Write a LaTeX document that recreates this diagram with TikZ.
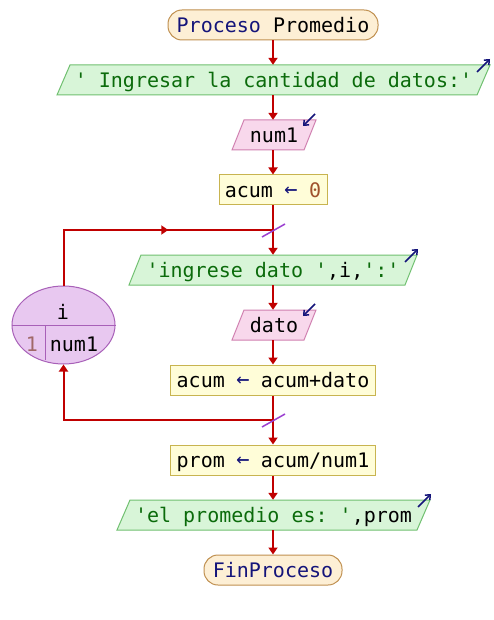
\documentclass[tikz,border=0pt]{standalone}
\usepackage{fontspec}
\setmonofont{DejaVu Sans Mono}
\usetikzlibrary{arrows.meta,calc,shapes.geometric}
\definecolor{termfill}{HTML}{FDEFD5}
\definecolor{termdraw}{HTML}{C09050}
\definecolor{outfill}{HTML}{D8F5D8}
\definecolor{outdraw}{HTML}{70C070}
\definecolor{infill}{HTML}{F8D8EC}
\definecolor{indraw}{HTML}{D080B0}
\definecolor{procfill}{HTML}{FFFDD8}
\definecolor{procdraw}{HTML}{C8B450}
\definecolor{ellfill}{HTML}{E8C8F0}
\definecolor{elldraw}{HTML}{A860B8}
\definecolor{flowred}{HTML}{C00000}
\definecolor{slashc}{HTML}{9B3FD0}
\definecolor{navyc}{HTML}{14147A}
\definecolor{strc}{HTML}{0B6B0B}
\definecolor{numc}{HTML}{A0522D}
\definecolor{onec}{HTML}{A06868}
\newcommand{\asg}{\makebox[0.602em]{\raisebox{0.5pt}{\textcolor{navyc}{\fontsize{22}{22}\selectfont ←}}}}
\newcommand{\mypara}[5]{\filldraw[#5] (#1-#3-#4,#2+15) -- (#1-#3+#4,#2-15) -- (#1+#3+#4,#2-15) -- (#1+#3-#4,#2+15) -- cycle;}
\begin{document}
\begin{tikzpicture}[x=1pt,y=-1pt,
  font=\ttfamily\fontsize{20}{24}\selectfont,
  txt/.style={inner sep=0pt, text height=14.6pt, text depth=0pt, minimum height=30pt, anchor=center},
  termbox/.style={txt, draw=termdraw, fill=termfill, line width=1pt, rounded corners=14pt},
  procbox/.style={txt, draw=procdraw, fill=procfill, line width=1pt},
  outshape/.style={draw=outdraw, fill=outfill, line width=1pt},
  inshape/.style={draw=indraw, fill=infill, line width=1pt},
  flowline/.style={draw=flowred, line width=2pt},
  flow/.style={flowline, -{Triangle[length=7pt,width=9pt]}},
  slash/.style={draw=slashc, line width=1.5pt},
  icon/.style={draw=navyc, line width=1.5pt, -{Straight Barb[length=4pt,width=7pt]}}
]
\fill[white] (0,0) rectangle (493,620);
\useasboundingbox (0,0) rectangle (493,620);

% shapes
\mypara{273.5}{80}{210}{6.5}{outshape}
\mypara{274}{135}{36}{6}{inshape}
\mypara{273}{270}{138}{6}{outshape}
\mypara{274}{325}{36}{6}{inshape}
\mypara{273.5}{515}{150}{6.5}{outshape}

% nodes
\node[termbox, minimum width=210pt] (start) at (273,25) {\textcolor{navyc}{Proceso} Promedio};
\node[txt, minimum width=420pt] (o1) at (273.5,80) {\textcolor{strc}{' Ingresar la cantidad de datos:'}};
\node[txt, minimum width=72pt] (i1) at (274,135) {num1};
\node[procbox, minimum width=108pt] (a0) at (273,190) {acum \asg{} \textcolor{numc}{0}};
\node[txt, minimum width=276pt] (o2) at (273,270) {\textcolor{strc}{'ingrese dato '},i,\textcolor{strc}{':'}};
\node[txt, minimum width=72pt] (i2) at (274,325) {dato};
\node[procbox, minimum width=205pt] (a1) at (273,380) {acum \asg{} acum+dato};
\node[procbox, minimum width=205pt] (p1) at (273,460) {prom \asg{} acum/num1};
\node[txt, minimum width=300pt] (o3) at (273.5,515) {\textcolor{strc}{'el promedio es: '},prom};
\node[termbox, minimum width=138pt] (fin) at (273,570) {\textcolor{navyc}{FinProceso}};

% loop ellipse
\node[ellipse, draw=elldraw, fill=ellfill, line width=1pt, minimum width=103pt, minimum height=78pt, inner sep=0pt] (loop) at (63.5,325) {};
\draw[draw=elldraw, line width=1pt] (loop.west) -- (loop.east);
\draw[draw=elldraw, line width=1pt] (45,325) -- (45,360);
\node[txt, minimum height=0pt] (lv) at (63,312) {i};
\node[txt, minimum height=0pt] (l1) at (32,344) {\textcolor{onec}{1}};
\node[txt, minimum height=0pt] (l2) at (74,344) {num1};

% junctions
\coordinate (j1) at (273,230);
\coordinate (j2) at (273,420);

% icons
\draw[icon] (477,72) -- (490,59);
\draw[icon] (315,114) -- (303,126);
\draw[icon] (405,262) -- (418,249);
\draw[icon] (315,304) -- (303,316);
\draw[icon] (418,507) -- (431,494);

% connectors
\draw[flow] (start.south) -- (start.south |- o1.north);
\draw[flow] (start.south |- o1.south) -- (start.south |- i1.north);
\draw[flow] (start.south |- i1.south) -- (a0.north);
\draw[flow] (a0.south) -- (a0.south |- o2.north);
\draw[flow] (a0.south |- o2.south) -- (a0.south |- i2.north);
\draw[flow] (a0.south |- i2.south) -- (a1.north);
\draw[flow] (a1.south) -- (p1.north);
\draw[flow] (p1.south) -- (p1.south |- o3.north);
\draw[flow] (p1.south |- o3.south) -- (fin.north);
% loop connectors
\draw[flowline] (loop.north) |- (j1);
\draw[flow] (loop.north |- j1) -- ($(loop.north |- j1)!0.5!(j1)$);
\draw[flow] (j2) -| (loop.south);
% slashes
\draw[slash] ($(j1)+(-11,7)$) -- ($(j1)+(12,-6)$);
\draw[slash] ($(j2)+(-11,7)$) -- ($(j2)+(12,-6)$);
\end{tikzpicture}
\end{document}
